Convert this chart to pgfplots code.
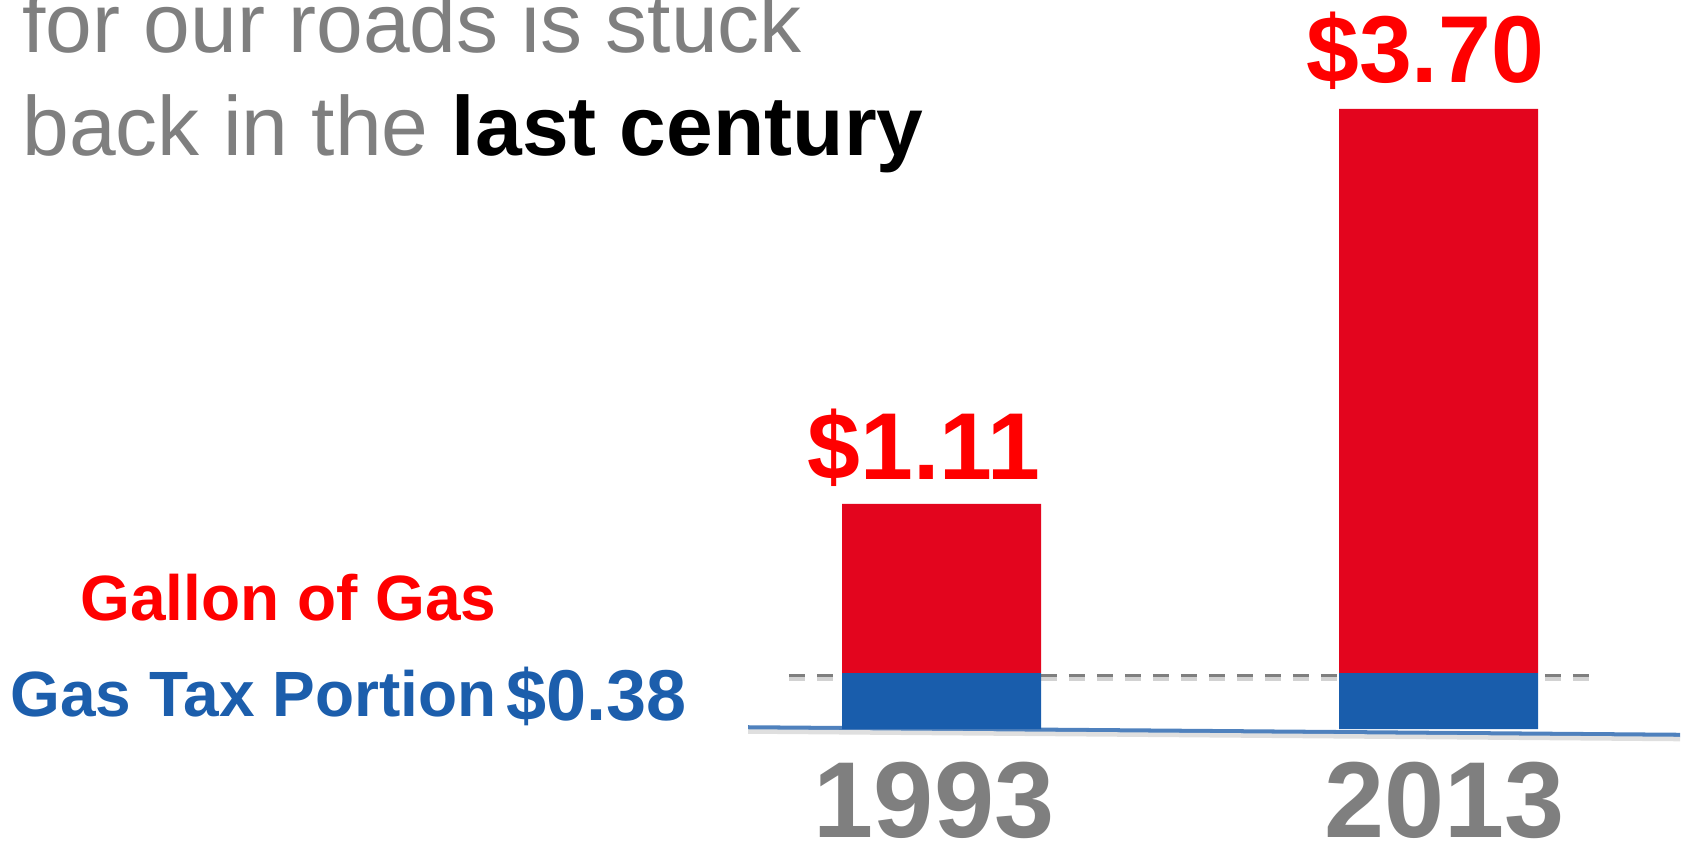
\documentclass[border=0pt]{standalone}
\usepackage{pgfplots}
\pgfplotsset{compat=1.18}
\usepackage{fontspec}
\setmainfont{Liberation Sans}

\definecolor{barred}{RGB}{227,5,30}
\definecolor{barblue}{RGB}{25,93,172}
\definecolor{txtred}{RGB}{255,0,0}
\definecolor{txtblue}{RGB}{28,94,172}
\definecolor{txtgray}{RGB}{127,127,127}
\definecolor{baseblue}{RGB}{79,129,189}

\newcommand{\fs}[1]{\fontsize{#1}{#1}\selectfont}

\begin{document}
\begin{tikzpicture}
\path[use as bounding box, clip] (0,0) rectangle (841.5bp,421bp);

% slide text, placed in pixel units (y downwards)
\begin{scope}[x=0.5bp, y=-0.5bp, shift={(0bp,421bp)}]
  \node[anchor=base west, inner sep=0pt, text=txtgray]
    at (22,53) {\fs{42bp}for our roads is stuck};
  \node[anchor=base west, inner sep=0pt, text=txtgray]
    at (22,156) {\fs{42bp}back in the \textcolor{black}{\bfseries last century}};
  \node[anchor=base west, inner sep=0pt, text=txtred]
    at (80,621) {\fs{32bp}\bfseries Gallon of Gas};
  \node[anchor=base west, inner sep=0pt, text=txtblue]
    at (10,717) {\fs{32bp}\bfseries Gas Tax Portion};
  \node[anchor=base west, inner sep=0pt, text=txtblue]
    at (506,721) {\fs{36bp}\bfseries \$0.38};
\end{scope}

\begin{axis}[
    at={(371.35bp,56.5bp)}, anchor=south west,
    scale only axis,
    width=447.3bp, height=310bp,
    xmin=-0.4, xmax=1.4,
    ymin=0, ymax=3.7,
    hide axis,
    clip=false,
    ybar stacked,
    bar width=99.5bp,
]
  % tax portion (blue) and rest of the gallon (red), as drawn
  \addplot[fill=barblue, draw=none] coordinates {(0,0.334) (1,0.334)};
  \addplot[fill=barred, draw=none] coordinates {(0,1.009) (1,3.366)};

  % dashed tax level
  \draw[gray!35, line width=1.75bp, dash pattern=on 8bp off 6bp]
    (axis cs:-0.307,0.298) -- (axis cs:1.303,0.298);
  \draw[txtgray, line width=1.75bp, dash pattern=on 8bp off 6bp]
    (axis cs:-0.307,0.316) -- (axis cs:1.303,0.316);

  % base line
  \draw[gray!25, line width=2.25bp]
    (axis cs:-0.389,-0.015) -- (axis cs:1.486,-0.060);
  \draw[baseblue, line width=2.25bp]
    (axis cs:-0.389,0.009) -- (axis cs:1.486,-0.036);

  % value labels
  \node[anchor=base, inner sep=0pt, text=txtred]
    at (axis cs:-0.035,1.486) {\fs{47.5bp}\bfseries \$1.11};
  \node[anchor=base, inner sep=0pt, text=txtred]
    at (axis cs:0.973,3.861) {\fs{47.5bp}\bfseries \$3.70};

  % years
  \node[anchor=base, inner sep=0pt, text=txtgray]
    at (axis cs:-0.015,-0.645) {\fs{54bp}\bfseries 1993};
  \node[anchor=base, inner sep=0pt, text=txtgray]
    at (axis cs:1.013,-0.645) {\fs{54bp}\bfseries 2013};
\end{axis}
\end{tikzpicture}
\end{document}
